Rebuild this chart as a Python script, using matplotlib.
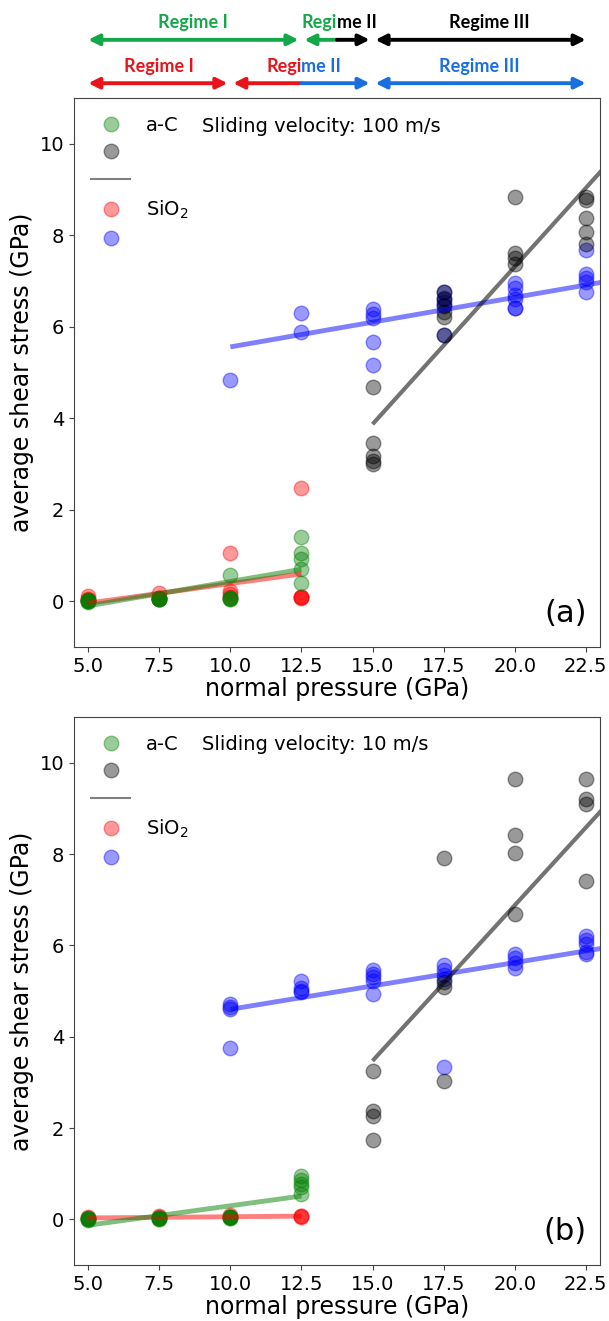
import matplotlib
matplotlib.use("Agg")
import matplotlib.pyplot as plt
import numpy as np
from matplotlib.lines import Line2D

# pressures (GPa)
p_low = [5.0, 7.5, 10.0, 12.5]
p_high_aC = [15.0, 17.5, 20.0, 22.5]
p_high_sio2 = [10.0, 12.5, 15.0, 17.5, 20.0, 22.5]

# ---- (a) 100 m/s ----
a_aC_low = [[0.0, 0.0, 0.02, -0.02, 0.01],
            [0.05, 0.06, 0.04, 0.07, 0.05],
            [0.05, 0.08, 0.06, 0.58, 0.07],
            [1.41, 1.06, 0.93, 0.70, 0.41]]
a_sio2_low = [[0.12, 0.05, 0.02, 0.03],
              [0.18, 0.08, 0.05, 0.07],
              [1.06, 0.22, 0.15, 0.10],
              [2.48, 0.10, 0.09, 0.08, 0.10]]
a_aC_high = [[4.68, 3.47, 3.17, 3.06, 2.99],
             [6.75, 6.60, 6.45, 6.33, 6.22, 5.83],
             [8.83, 7.61, 7.50, 7.38],
             [8.83, 8.78, 8.38, 8.08, 7.80]]
a_sio2_high = [[4.83],
               [6.31, 5.88],
               [6.38, 6.28, 6.20, 5.67, 5.17],
               [6.75, 6.62, 6.55, 6.48, 5.83],
               [6.95, 6.84, 6.70, 6.60, 6.42, 6.40],
               [7.67, 7.15, 7.06, 6.98, 6.75]]

# ---- (b) 10 m/s ----
b_aC_low = [[-0.01, 0.0, 0.01, 0.0, 0.02],
            [0.01, 0.02, 0.03, 0.0, 0.02],
            [0.04, 0.05, 0.06, 0.05, 0.04],
            [0.95, 0.87, 0.78, 0.70, 0.55]]
b_sio2_low = [[0.06, 0.03],
              [0.08, 0.05],
              [0.10, 0.06],
              [0.07, 0.08, 0.06]]
b_aC_high = [[3.24, 2.38, 2.26, 1.74],
             [7.92, 5.20, 5.08, 3.02],
             [9.65, 8.41, 8.03, 6.68],
             [9.65, 9.20, 9.10, 7.40]]
b_sio2_high = [[4.72, 4.65, 4.60, 3.75],
               [5.22, 5.06, 5.00, 4.98],
               [5.46, 5.38, 5.31, 5.23, 4.93],
               [5.57, 5.46, 5.35, 5.27, 3.33],
               [5.80, 5.72, 5.61, 5.50],
               [6.21, 6.11, 6.02, 5.85, 5.80]]

# linear fits (x start, x end), (y start, y end)
a_fits = {"aC_low": ([5.0, 12.5], [-0.10, 0.70]),
          "sio2_low": ([5.0, 12.5], [-0.04, 0.60]),
          "aC_high": ([15.0, 23.5], [3.87, 9.72]),
          "sio2_high": ([10.0, 23.5], [5.56, 7.02])}
b_fits = {"aC_low": ([5.0, 12.5], [-0.13, 0.51]),
          "sio2_low": ([5.0, 12.5], [0.03, 0.07]),
          "aC_high": ([15.0, 23.5], [3.47, 9.26]),
          "sio2_high": ([10.0, 23.5], [4.60, 5.98])}

GREEN, RED, BLUE, BLACK = "#14a84a", "#e8141c", "#1a6fdf", "black"


def flat(xs, groups):
    xx, yy = [], []
    for x, g in zip(xs, groups):
        xx += [x] * len(g)
        yy += g
    return xx, yy


def panel(ax, aC_low, sio2_low, aC_high, sio2_high, fits, velocity, tag):
    ms = 110
    al = 0.4
    ax.scatter(*flat(p_high_sio2, sio2_high), s=ms, color="b", alpha=al, lw=1)
    ax.scatter(*flat(p_low, sio2_low), s=ms, color="r", alpha=al, lw=1)
    ax.scatter(*flat(p_high_aC, aC_high), s=ms, color="k", alpha=al, lw=1)
    ax.scatter(*flat(p_low, aC_low), s=ms, color="g", alpha=al, lw=1)

    ax.plot(*fits["sio2_high"], color="b", alpha=0.5, lw=3.5, solid_capstyle="butt")
    ax.plot(*fits["aC_high"], color="k", alpha=0.55, lw=3, solid_capstyle="butt")
    ax.plot(*fits["sio2_low"], color="r", alpha=0.5, lw=3.5, solid_capstyle="butt")
    ax.plot(*fits["aC_low"], color="g", alpha=0.5, lw=3.5, solid_capstyle="butt")

    ax.set_xlim(4.5, 23.0)
    ax.set_ylim(-1, 11)
    ax.set_xticks(np.arange(5, 23, 2.5))
    ax.set_xticklabels([f"{v:.1f}" for v in np.arange(5, 23, 2.5)])
    ax.set_yticks(range(0, 11, 2))
    ax.tick_params(labelsize=14, color="#444")
    ax.set_xlabel("normal pressure (GPa)", fontsize=17, labelpad=1)
    ax.set_ylabel("average shear stress (GPa)", fontsize=17)
    for s in ax.spines.values():
        s.set_color("#444")

    handles = [Line2D([], [], ls="", marker="o", ms=10.5, mew=1, color=c, alpha=al)
               for c in ["g", "k"]]
    handles.append(Line2D([], [], color="gray", lw=1.5))
    handles += [Line2D([], [], ls="", marker="o", ms=10.5, mew=1, color=c, alpha=al)
                for c in ["r", "b"]]
    ax.legend(handles, ["a-C", " ", " ", "SiO$_2$", " "], loc="upper left",
              frameon=False, fontsize=14, labelspacing=0.45, handlelength=2.0)
    ax.text(0.243, 0.949, f"Sliding velocity: {velocity} m/s", transform=ax.transAxes,
            fontsize=14, va="center", ha="left")
    ax.text(0.975, 0.035, tag, transform=ax.transAxes, fontsize=22,
            ha="right", va="bottom")


fig = plt.figure(figsize=(6.09, 13.21), dpi=100)
ax1 = fig.add_axes([0.1215, 0.5102, 0.8637, 0.4156])
ax2 = fig.add_axes([0.1215, 0.0424, 0.8637, 0.4148])

panel(ax1, a_aC_low, a_sio2_low, a_aC_high, a_sio2_high, a_fits, 100, "(a)")
panel(ax2, b_aC_low, b_sio2_low, b_aC_high, b_sio2_high, b_fits, 10, "(b)")

# regime arrows above panel (a)
tr = ax1.get_xaxis_transform()


def arrow(x0, x1, y, color, style):
    ax1.annotate("", xy=(x1, y), xytext=(x0, y), xycoords=tr, textcoords=tr,
                 annotation_clip=False,
                 arrowprops=dict(arrowstyle=style, color=color, lw=2.8,
                                 mutation_scale=16, shrinkA=0, shrinkB=0))


def label(x, y, s, color, ha="center"):
    ax1.text(x, y, s, transform=tr, color=color, ha=ha, va="center",
             fontsize=13, fontweight="bold", family=["Lato", "DejaVu Sans"])


y1t, y1a, y2t, y2a = 1.138, 1.106, 1.057, 1.027
arrow(5.0, 12.4, y1a, GREEN, "<|-|>")
arrow(12.6, 13.75, y1a, GREEN, "<|-")
arrow(13.75, 14.9, y1a, BLACK, "-|>")
arrow(15.1, 22.5, y1a, BLACK, "<|-|>")
label(8.7, y1t, "Regime I", GREEN)
label(13.75, y1t, "Regi", GREEN, ha="right")
label(13.75, y1t, "me II", BLACK, ha="left")
label(19.1, y1t, "Regime III", BLACK)

arrow(5.0, 9.9, y2a, RED, "<|-|>")
arrow(10.1, 12.5, y2a, RED, "<|-")
arrow(12.5, 14.9, y2a, BLUE, "-|>")
arrow(15.1, 22.5, y2a, BLUE, "<|-|>")
label(7.5, y2t, "Regime I", RED)
label(12.5, y2t, "Regi", RED, ha="right")
label(12.5, y2t, "me II", BLUE, ha="left")
label(18.75, y2t, "Regime III", BLUE)

fig.savefig("out.png", dpi=100)
